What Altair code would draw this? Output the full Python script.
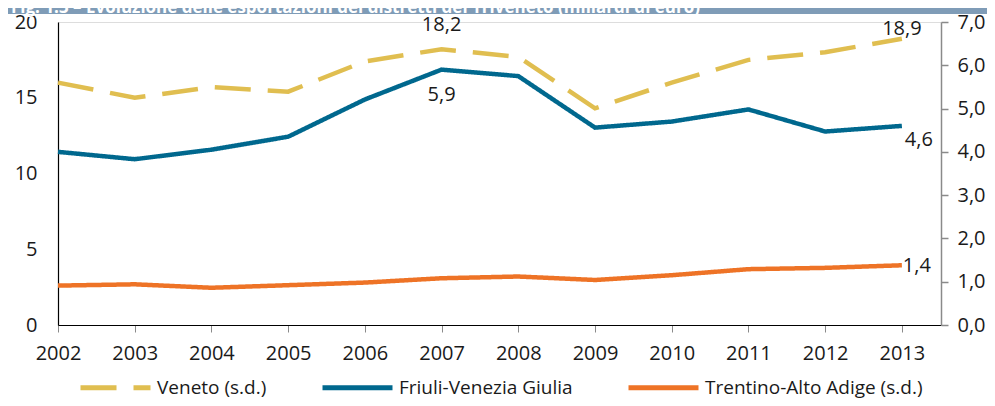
import altair as alt
import pandas as pd

TITLE = "Fig. 1.3 – Evoluzione delle esportazioni dei distretti del Triveneto (miliardi di euro)"
years = list(range(2002, 2014))
series = ["Veneto (s.d.)", "Friuli-Venezia Giulia", "Trentino-Alto Adige (s.d.)"]
veneto = [16.0, 15.0, 15.7, 15.4, 17.4, 18.2, 17.7, 14.3, 16.0, 17.5, 18.0, 18.9]
friuli = [4.0, 3.83, 4.05, 4.35, 5.21, 5.9, 5.75, 4.56, 4.70, 4.98, 4.47, 4.6]
trentino = [0.91, 0.94, 0.86, 0.92, 0.98, 1.08, 1.12, 1.04, 1.15, 1.29, 1.32, 1.38]
left_ticks = [0, 5, 10, 15, 20]
right_ticks = [0, 1, 2, 3, 4, 5, 6, 7]

colors = ["#E0BE50", "#00688E", "#EE7326"]
dashes = [[36, 17], [1, 0], [1, 0]]

df_left = pd.DataFrame({"anno": years, "valore": veneto, "serie": series[0]})
df_right = pd.concat([
    pd.DataFrame({"anno": years, "valore": friuli, "serie": series[1]}),
    pd.DataFrame({"anno": years, "valore": trentino, "serie": series[2]}),
])
df_left["lab"] = df_left["valore"].map(lambda v: f"{v:.1f}".replace(".", ","))
df_right["lab"] = df_right["valore"].map(lambda v: f"{v:.1f}".replace(".", ","))

FONT = "Open Sans"
TXT = "#1a1a1a"

legend = alt.Legend(title=None, orient="none", legendX=20, legendY=328,
                    direction="horizontal", symbolType="stroke", symbolSize=4900,
                    symbolStrokeWidth=5, labelFontSize=19, labelOffset=4,
                    columnPadding=45, labelColor=TXT, labelFont=FONT, labelLimit=500)

x_enc = alt.X("anno:Q", scale=alt.Scale(domain=[2002, 2013.51], nice=False, zero=False),
              axis=alt.Axis(values=years, format="d", title=None, grid=False,
                            labelFlush=False, labelOverlap=False,
                            domainColor="#000000", domainWidth=1.2, tickColor="#8a8a8a",
                            tickSize=7, labelFontSize=20, labelPadding=11,
                            labelColor=TXT, labelFont=FONT))
color_enc = alt.Color("serie:N", scale=alt.Scale(domain=series, range=colors),
                      sort=series, legend=legend)
dash_enc = alt.StrokeDash("serie:N", scale=alt.Scale(domain=series, range=dashes),
                          sort=series, legend=legend)

y_left = alt.Y("valore:Q", scale=alt.Scale(domain=[0, 20], nice=False),
               axis=alt.Axis(orient="left", values=left_ticks, ticks=False, title=None,
                             grid=False, domainColor="#000000", domainWidth=1.2,
                             labelPadding=21, labelFontSize=20, labelColor=TXT,
                             labelFont=FONT))
y_right = alt.Y("valore:Q", scale=alt.Scale(domain=[0, 7], nice=False),
                axis=alt.Axis(orient="right", values=right_ticks, title=None, grid=False,
                              labelExpr="replace(format(datum.value, '.1f'), '.', ',')",
                              domainColor="#8a8a8a", domainWidth=1.5, tickColor="#8a8a8a",
                              tickWidth=1.5, tickSize=7, labelPadding=9, labelFontSize=20,
                              labelColor=TXT, labelFont=FONT))

tdf = pd.DataFrame({"t": [TITLE]})
band = alt.Chart(tdf).mark_rect(color="#7F9CB7").encode(
    x=alt.value(-50), x2=alt.value(933), y=alt.value(-14), y2=alt.value(-8))
title_text = alt.Chart(tdf).mark_text(align="left", baseline="alphabetic", font=FONT,
                                      fontWeight="bold", fontSize=17, color="white").encode(
    x=alt.value(-47), y=alt.value(-9.5), text="t:N")

base_left = alt.Chart(df_left)
ven_line = base_left.mark_line(strokeWidth=4.5, strokeCap="butt").encode(
    x=x_enc, y=y_left, color=color_enc, strokeDash=dash_enc)


def lab(base, name, year, dx, dy):
    return base.transform_filter(
        (alt.datum.serie == name) & (alt.datum.anno == year)
    ).mark_text(fontSize=20, font=FONT, color=TXT, dx=dx, dy=dy,
                align="center", baseline="middle").encode(
        x=alt.X("anno:Q"), y=alt.Y("valore:Q"), text="lab:N")


ven_l1 = lab(base_left, series[0], 2007, 0, -24)
ven_l2 = lab(base_left, series[0], 2013, 0, -10)

base_right = alt.Chart(df_right)
right_lines = base_right.mark_line(strokeWidth=4.5, strokeCap="butt").encode(
    x=x_enc, y=y_right, color=color_enc, strokeDash=dash_enc)
fr_l1 = lab(base_right, series[1], 2007, 0, 25)
fr_l2 = lab(base_right, series[1], 2013, 17, 14)
tr_l1 = lab(base_right, series[2], 2013, 15, 1)

left = alt.layer(band, title_text, ven_line, ven_l1, ven_l2)
right = alt.layer(right_lines, fr_l1, fr_l2, tr_l1)

chart = alt.layer(left, right).resolve_scale(y="independent").properties(
    width=883, height=303,
    autosize=alt.AutoSizeParams(type="none"),
    padding={"left": 50, "top": 14, "right": 46, "bottom": 73},
).configure_view(stroke=None).configure(font=FONT)

chart.save("out.html", embed_options={"renderer": "svg", "actions": False})
